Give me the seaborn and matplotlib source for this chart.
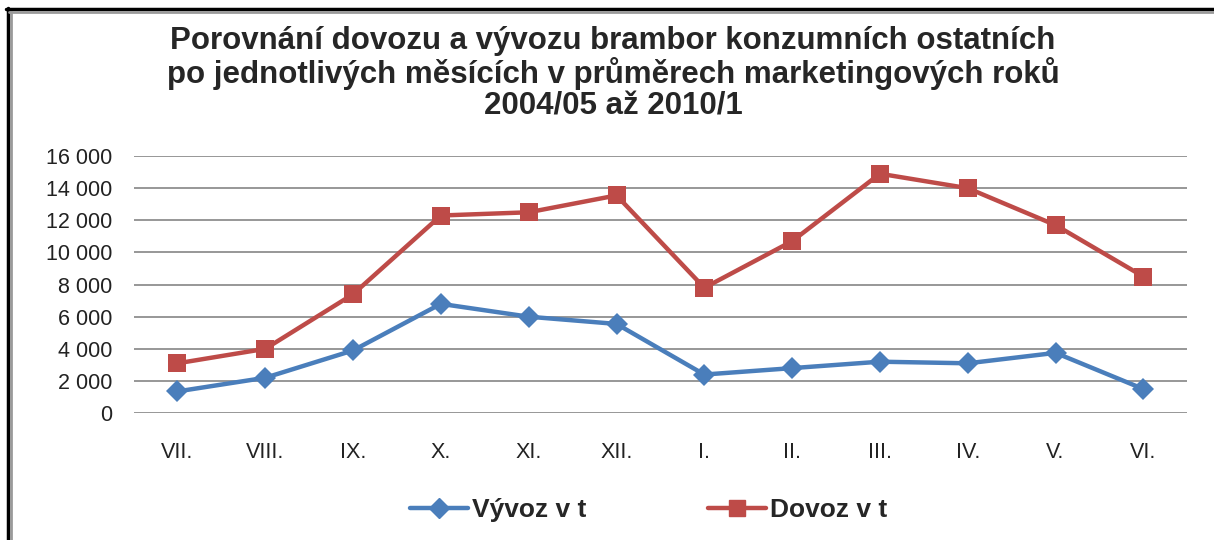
import seaborn as sns
import matplotlib.pyplot as plt
import pandas as pd
from matplotlib.lines import Line2D
from matplotlib.ticker import FuncFormatter

# months of the marketing year
months = ["VII.", "VIII.", "IX.", "X.", "XI.", "XII.", "I.", "II.", "III.", "IV.", "V.", "VI."]
vyvoz = [1350, 2200, 3900, 6800, 6000, 5550, 2400, 2800, 3200, 3100, 3750, 1500]
dovoz = [3100, 4000, 7400, 12300, 12500, 13550, 7800, 10700, 14900, 14000, 11700, 8500]
y_ticks = [0, 2000, 4000, 6000, 8000, 10000, 12000, 14000, 16000]

df = pd.DataFrame({"mesic": months * 2,
                   "pos": list(range(12)) * 2,
                   "hodnota": vyvoz + dovoz,
                   "rada": ["Vývoz v t"] * 12 + ["Dovoz v t"] * 12})

sns.set_style("white")
plt.rcParams['font.family'] = ['Liberation Sans', 'DejaVu Sans']

fig = plt.figure(figsize=(12.14, 5.40), dpi=100)
ax = fig.add_axes([0.110, 0.235, 0.868, 0.476])

sns.lineplot(data=df, x="pos", y="hodnota", hue="rada", style="rada",
             palette={"Vývoz v t": "#4A7EBB", "Dovoz v t": "#BE4B48"},
             markers={"Vývoz v t": "D", "Dovoz v t": "s"},
             dashes=False, linewidth=3.2, markeredgewidth=0,
             ax=ax, legend=False)
# square/diamond sizes differ a bit
for line, ms in zip(ax.lines, [11, 13.5]):
    line.set_markersize(ms)

ax.set_xlim(-0.5, 11.5)
ax.set_ylim(0, 16000)
ax.set_yticks(y_ticks)
ax.yaxis.set_major_formatter(FuncFormatter(lambda v, p: f"{int(v):,}".replace(",", " ")))
ax.set_xticks(range(12))
ax.set_xticklabels(months)
ax.tick_params(axis="y", labelsize=15.5, pad=15, length=0, colors="#222222")
ax.tick_params(axis="x", labelsize=15.5, pad=21, length=0, colors="#222222")
ax.grid(axis="y", color="#858585", linewidth=1.2)
ax.set_axisbelow(True)
for s in ax.spines.values():
    s.set_visible(False)
ax.set_xlabel("")
ax.set_ylabel("")

fig.text(0.505, 0.952,
         "Porovnání dovozu a vývozu brambor konzumních ostatních\n"
         "po jednotlivých měsících v průměrech marketingových roků\n"
         "2004/05 až 2010/1",
         ha="center", va="top", fontsize=22.5, fontweight="bold", linespacing=1.06)

handles = [Line2D([], [], color="#4A7EBB", marker="D", markersize=10, linewidth=3.2),
           Line2D([], [], color="#BE4B48", marker="s", markersize=12, linewidth=3.2)]
fig.legend(handles, ["Vývoz v t", "Dovoz v t"], loc="center", bbox_to_anchor=(0.534, 0.055),
           ncol=2, frameon=False, columnspacing=4.6, handlelength=2.2, handletextpad=0.15,
           prop={"size": 19, "weight": "bold"})

# frame on the top and left edge
fig.add_artist(Line2D([7.5 / 1214, 7.5 / 1214], [0, 1 - 8 / 540], color="black", linewidth=2.5,
                      transform=fig.transFigure))
fig.add_artist(Line2D([10.5 / 1214, 10.5 / 1214], [0, 1 - 11 / 540], color="#9a9a9a", linewidth=2,
                      transform=fig.transFigure))
fig.add_artist(Line2D([6 / 1214, 1], [1 - 9 / 540, 1 - 9 / 540], color="black", linewidth=2.5,
                      transform=fig.transFigure))
fig.add_artist(Line2D([9 / 1214, 1], [1 - 11.5 / 540, 1 - 11.5 / 540], color="#9a9a9a", linewidth=2,
                      transform=fig.transFigure))

fig.savefig("out.png", dpi=100)
